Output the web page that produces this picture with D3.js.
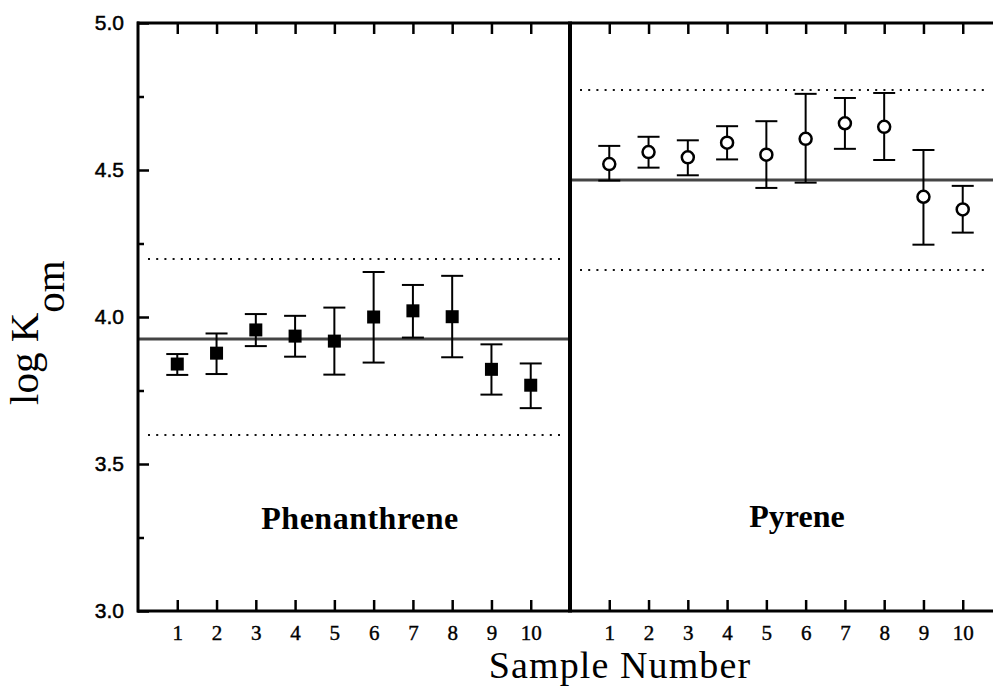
<!DOCTYPE html>
<html>
<head>
<meta charset="utf-8">
<script src="https://cdn.jsdelivr.net/npm/d3@7/dist/d3.min.js"></script>
<style>
  html, body { margin: 0; padding: 0; background: #fff; }
  svg { display: block; }
</style>
</head>
<body>
<svg id="chart" width="993" height="686"></svg>
<script>
// ---------------- data ----------------
const samples = [1, 2, 3, 4, 5, 6, 7, 8, 9, 10];
const phenMean = [3.840, 3.877, 3.956, 3.935, 3.918, 4.000, 4.021, 4.001, 3.822, 3.768];
const phenHigh = [3.874, 3.944, 4.010, 4.004, 4.032, 4.153, 4.109, 4.140, 3.907, 3.842];
const phenLow  = [3.803, 3.806, 3.901, 3.865, 3.804, 3.845, 3.930, 3.863, 3.736, 3.690];
const pyrMean  = [4.520, 4.561, 4.543, 4.593, 4.552, 4.606, 4.659, 4.647, 4.409, 4.366];
const pyrHigh  = [4.582, 4.613, 4.601, 4.649, 4.666, 4.759, 4.745, 4.762, 4.568, 4.446];
const pyrLow   = [4.464, 4.508, 4.482, 4.536, 4.439, 4.457, 4.572, 4.534, 4.246, 4.287];
const phenRef  = [3.925, 4.197, 3.599];   // mean, upper, lower
const pyrRef   = [4.466, 4.772, 4.160];
const yTicks   = [3.0, 3.25, 3.5, 3.75, 4.0, 4.25, 4.5, 4.75, 5.0];
const yLabels  = [3.0, 3.5, 4.0, 4.5, 5.0];
const panelNames = ["Phenanthrene", "Pyrene"];

// ---------------- layout ----------------
const svg = d3.select("#chart");
const topY = 23, bottomY = 611, leftX = 138, dividerX = 570, panelW = 432;
const y = d3.scaleLinear().domain([3, 5]).range([bottomY, topY]);
const xL = d3.scaleLinear().domain([0, 11]).range([leftX, dividerX]);
const xR = d3.scaleLinear().domain([0, 11]).range([dividerX, dividerX + panelW]);

const serif = "'Liberation Serif', 'Times New Roman', serif";
const sans = "'Liberation Sans', Arial, sans-serif";

// reference lines
function refLines(x, ref) {
  const g = svg.append("g");
  const [x0, x1] = x.range();
  g.append("line").attr("x1", x0).attr("x2", Math.min(x1, 993))
    .attr("y1", y(ref[0])).attr("y2", y(ref[0]))
    .attr("stroke", "#444").attr("stroke-width", 3);
  [ref[1], ref[2]].forEach(v => {
    g.append("line").attr("x1", x0 + 10).attr("x2", Math.min(x1, 993) - 6)
      .attr("y1", y(v)).attr("y2", y(v))
      .attr("stroke", "#111").attr("stroke-width", 2)
      .attr("stroke-dasharray", "2,6.2");
  });
}
refLines(xL, phenRef);
refLines(xR, pyrRef);

// error bars + markers
function series(x, mean, hi, lo, filled) {
  const g = svg.append("g");
  const d = samples.map((s, i) => ({ s, m: mean[i], h: hi[i], l: lo[i] }));
  g.selectAll(".eb").data(d).enter().append("line")
    .attr("x1", p => x(p.s)).attr("x2", p => x(p.s))
    .attr("y1", p => y(p.h)).attr("y2", p => y(p.l))
    .attr("stroke", "#000").attr("stroke-width", 2);
  ["h", "l"].forEach(k => {
    g.selectAll(".cap" + k).data(d).enter().append("line")
      .attr("x1", p => x(p.s) - 11).attr("x2", p => x(p.s) + 11)
      .attr("y1", p => y(p[k])).attr("y2", p => y(p[k]))
      .attr("stroke", "#000").attr("stroke-width", 2);
  });
  if (filled) {
    g.selectAll(".mk").data(d).enter().append("rect")
      .attr("x", p => x(p.s) - 6.5).attr("y", p => y(p.m) - 6.5)
      .attr("width", 13).attr("height", 13).attr("fill", "#000");
  } else {
    g.selectAll(".mk").data(d).enter().append("circle")
      .attr("cx", p => x(p.s)).attr("cy", p => y(p.m)).attr("r", 6)
      .attr("fill", "#fff").attr("stroke", "#000").attr("stroke-width", 2.5);
  }
}
series(xL, phenMean, phenHigh, phenLow, true);
series(xR, pyrMean, pyrHigh, pyrLow, false);

// axes
function xAxes(x) {
  const b = svg.append("g").attr("transform", `translate(0,${bottomY})`)
    .call(d3.axisBottom(x).tickValues(samples).tickSizeInner(-11).tickSizeOuter(0).tickPadding(0));
  b.select(".domain").remove();
  b.selectAll(".tick line").attr("stroke-width", 2.5);
  b.selectAll("text").attr("y", 29).attr("dy", null)
    .style("font-family", serif).style("font-size", "21px").attr("fill", "#000")
    .attr("stroke", "#000").attr("stroke-width", 0.4);
  const t = svg.append("g").attr("transform", `translate(0,${topY})`)
    .call(d3.axisTop(x).tickValues(samples).tickSizeInner(-11).tickSizeOuter(0).tickFormat(""));
  t.select(".domain").remove();
  t.selectAll(".tick line").attr("stroke-width", 2.5);
}
xAxes(xL);
xAxes(xR);

const ya = svg.append("g").attr("transform", `translate(${leftX},0)`)
  .call(d3.axisLeft(y).tickValues(yTicks).tickSizeOuter(0)
    .tickFormat(v => yLabels.includes(v) ? d3.format(".1f")(v) : ""));
ya.select(".domain").remove();
ya.selectAll(".tick line")
  .attr("x1", 0)
  .attr("x2", v => yLabels.includes(v) ? 11 : 6)
  .attr("stroke-width", 2.5);
ya.selectAll("text").attr("x", -14)
  .style("font-family", sans).style("font-size", "21px").attr("fill", "#000")
  .attr("stroke", "#000").attr("stroke-width", 0.5);

// frame
svg.append("line").attr("x1", leftX - 1).attr("x2", 993).attr("y1", topY).attr("y2", topY)
  .attr("stroke", "#000").attr("stroke-width", 3);
svg.append("line").attr("x1", leftX - 1).attr("x2", 993).attr("y1", bottomY).attr("y2", bottomY)
  .attr("stroke", "#000").attr("stroke-width", 3);
svg.append("line").attr("x1", leftX).attr("x2", leftX).attr("y1", topY - 1.5).attr("y2", bottomY + 1.5)
  .attr("stroke", "#000").attr("stroke-width", 3);
svg.append("line").attr("x1", dividerX).attr("x2", dividerX).attr("y1", topY - 1.5).attr("y2", bottomY + 1.5)
  .attr("stroke", "#000").attr("stroke-width", 4);

// panel labels
svg.append("text").attr("x", 360).attr("y", 529)
  .attr("text-anchor", "middle").attr("font-family", serif).attr("font-weight", "bold")
  .attr("font-size", 32).attr("letter-spacing", 0.5).text(panelNames[0]);
svg.append("text").attr("x", 797).attr("y", 527)
  .attr("text-anchor", "middle").attr("font-family", serif).attr("font-weight", "bold")
  .attr("font-size", 32).text(panelNames[1]);

// axis titles
svg.append("text").attr("x", 620).attr("y", 678).attr("text-anchor", "middle")
  .attr("font-family", serif).attr("font-size", 38).attr("letter-spacing", 1.1)
  .text("Sample Number");

const yt = svg.append("text").attr("transform", "translate(38,405) rotate(-90)")
  .attr("text-anchor", "start").attr("font-family", serif).attr("font-size", 41);
yt.append("tspan").text("log K");
yt.append("tspan").attr("dy", 26).text("om");
</script>
</body>
</html>
